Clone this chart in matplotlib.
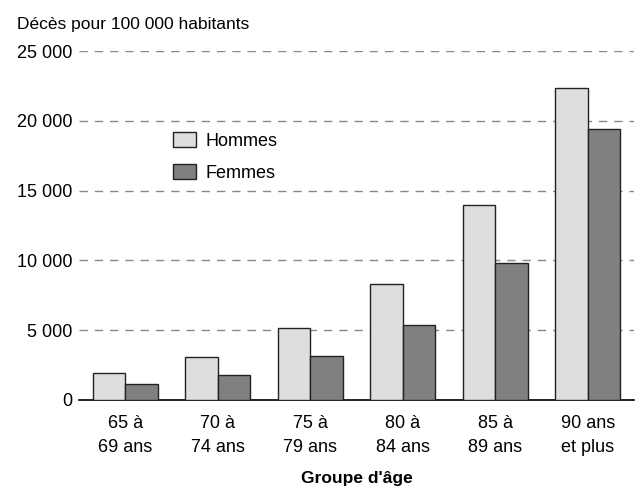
import numpy as np
import matplotlib.pyplot as plt

plt.rcParams['font.family'] = ['Liberation Sans Narrow', 'Liberation Sans', 'DejaVu Sans']

groupes = ['65 à\n69 ans', '70 à\n74 ans', '75 à\n79 ans', '80 à\n84 ans', '85 à\n89 ans', '90 ans\net plus']
hommes = [1910, 3060, 5130, 8300, 13960, 22380]
femmes = [1120, 1790, 3130, 5370, 9800, 19380]
yticks = [0, 5000, 10000, 15000, 20000, 25000]
ylabels = ['0', '5 000', '10 000', '15 000', '20 000', '25 000']

fig = plt.figure(figsize=(6.37, 4.91), dpi=100)
ax = fig.add_axes([79/637, 1 - 400/491, 555/637, 349/491])

x = np.arange(len(groupes))
w = 0.352
ax.bar(x - w/2, hommes, w, color='#dedede', edgecolor='#222222', linewidth=1, label='Hommes', zorder=3)
ax.bar(x + w/2, femmes, w, color='#808080', edgecolor='#222222', linewidth=1, label='Femmes', zorder=3)

ax.set_xlim(-0.5, 5.5)
ax.set_ylim(0, 25000)
ax.set_yticks(yticks)
ax.set_yticklabels(ylabels, fontsize=13)
ax.set_xticks(x)
ax.set_xticklabels(groupes, fontsize=13, linespacing=1.5)
ax.tick_params(axis='y', length=0, pad=5)
ax.tick_params(axis='x', length=0, pad=11)

for s in ['top', 'right', 'left']:
    ax.spines[s].set_visible(False)
ax.spines['bottom'].set_linewidth(1.2)
ax.yaxis.grid(True, linestyle=(0, (6, 5)), color='#888888', linewidth=1, zorder=0)

ax.set_xlabel("Groupe d'âge", fontsize=12.5, fontweight='bold', labelpad=11)
fig.text(17/637, 1 - 25/491, 'Décès pour 100 000 habitants', fontsize=12.5, va='center', ha='left')

ax.legend(loc='upper left', bbox_to_anchor=(0.14, 0.815), frameon=False, fontsize=13,
          handlelength=1.3, handleheight=0.9, labelspacing=0.8, handletextpad=0.5)

fig.savefig('out.png', dpi=100)
